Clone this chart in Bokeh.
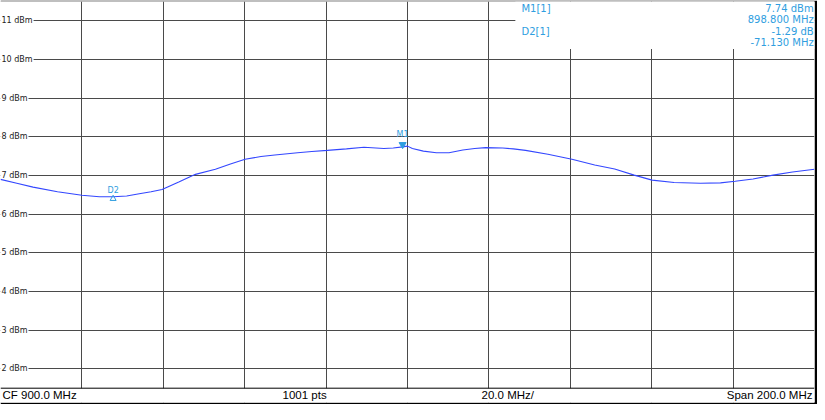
from bokeh.plotting import figure
from bokeh.models import (ColumnDataSource, FixedTicker, BoxAnnotation, Span,
                          Label, Range1d)
from bokeh.core.properties import value
from bokeh.embed import file_html
from bokeh.resources import INLINE

# ---------------- data ----------------
freq_mhz = [800.0, 804.0, 808.0, 814.0, 820.0, 824.3, 827.7, 831.0, 834.1, 837.0,
            839.7, 843.8, 847.9, 852.8, 856.5, 860.1, 864.0, 867.4, 873.0, 876.5,
            880.3, 885.0, 889.3, 894.2, 896.5, 898.8, 900.0, 901.2, 903.9, 907.1,
            910.2, 913.6, 916.5, 919.2, 923.4, 926.0, 929.0, 934.5, 940.4, 946.0,
            950.9, 955.7, 960.1, 965.5, 972.0, 976.9, 980.5, 984.9, 989.8, 994.6,
            1000.0]
level_dbm = [6.90, 6.80, 6.70, 6.58, 6.49, 6.45, 6.45, 6.47, 6.53, 6.58,
             6.64, 6.83, 7.03, 7.16, 7.30, 7.42, 7.49, 7.53, 7.59, 7.62,
             7.65, 7.69, 7.73, 7.70, 7.71, 7.74, 7.76, 7.70, 7.63, 7.59,
             7.59, 7.66, 7.70, 7.72, 7.71, 7.69, 7.65, 7.55, 7.42, 7.27,
             7.17, 7.01, 6.88, 6.82, 6.80, 6.81, 6.85, 6.91, 7.01, 7.09,
             7.16]

x_ticks = [800, 820, 840, 860, 880, 900, 920, 940, 960, 980, 1000]
y_ticks = [2, 3, 4, 5, 6, 7, 8, 9, 10, 11]
y_tick_labels = ["2 dBm", "3 dBm", "4 dBm", "5 dBm", "6 dBm", "7 dBm",
                 "8 dBm", "9 dBm", "10 dBm", "11 dBm"]

m1_freq = 898.8
m1_level = 7.74
d2_delta_freq = -71.13
d2_delta_level = -1.29

footer_texts = ["CF 900.0 MHz", "1001 pts", "20.0 MHz/", "Span 200.0 MHz"]

# ---------------- figure ----------------
BLUE = "#2f9ee0"
W, H = 817, 404
p = figure(width=W, height=H, output_backend="svg", toolbar_location=None,
           x_range=Range1d(800, 1000), y_range=Range1d(1.13, 11.5),
           min_border_left=0, min_border_right=3, min_border_top=1,
           min_border_bottom=2, border_fill_color="black",
           background_fill_color="white", outline_line_color=None)
p.axis.visible = False

p.xgrid.ticker = FixedTicker(ticks=x_ticks)
p.ygrid.ticker = FixedTicker(ticks=y_ticks)
p.grid.grid_line_color = "#4a4a4a"
p.grid.grid_line_width = 1
p.grid.grid_line_alpha = 1.0

# y labels with white background over grid lines (drawn before the trace)
ysrc = ColumnDataSource(dict(x=[800] * len(y_ticks), y=y_ticks, t=y_tick_labels))
p.text(x="x", y="y", text="t", source=ysrc, x_offset=0, padding=1,
       text_baseline="middle", text_align="left",
       text_font=value("DejaVu Sans"), text_font_size=value("8px"),
       text_color="#222222", background_fill_color="white",
       background_fill_alpha=1.0)

# trace
p.line(freq_mhz, level_dbm, line_color="#3347ff", line_width=1.1)

# markers
d2_freq = m1_freq + d2_delta_freq
d2_level = m1_level + d2_delta_level
p.scatter([m1_freq], [m1_level + 0.06], marker="inverted_triangle", size=7,
          fill_color=BLUE, line_color=BLUE)
p.scatter([d2_freq], [d2_level - 0.05], marker="triangle", size=6,
          fill_color=None, line_color=BLUE, line_width=1)
p.add_layout(Label(x=m1_freq, y=m1_level, text="M1", y_offset=8,
                   text_align="center", text_baseline="bottom",
                   text_font="DejaVu Sans", text_font_size="8px", text_color=BLUE))
p.add_layout(Label(x=d2_freq, y=d2_level, text="D2", y_offset=2,
                   text_align="center", text_baseline="bottom",
                   text_font="DejaVu Sans", text_font_size="8px", text_color=BLUE))

# marker info box (top right)
p.add_layout(BoxAnnotation(left=926.5, bottom=10.27, fill_color="white",
                           fill_alpha=1.0, line_color=None, level="annotation"))
info_left = [("M1[1]", 11.33), ("D2[1]", 10.73)]
info_right = [(f"{m1_level:.2f} dBm", 11.33),
              (f"{m1_freq:.3f} MHz", 11.03),
              (f"{d2_delta_level:.2f} dB", 10.73),
              (f"{d2_delta_freq:.3f} MHz", 10.44)]
for t, yy in info_left:
    p.add_layout(Label(x=928.0, y=yy, text=t, text_align="left",
                       text_baseline="middle", text_font="DejaVu Sans",
                       text_font_size="10px", text_color=BLUE))
for t, yy in info_right:
    p.add_layout(Label(x=999.8, y=yy, text=t, text_align="right",
                       text_baseline="middle", text_font="DejaVu Sans",
                       text_font_size="10px", text_color=BLUE))

# footer bar
p.add_layout(BoxAnnotation(top=1.5, fill_color="white", fill_alpha=1.0,
                           line_color=None, level="annotation"))
p.add_layout(Span(location=1.5, dimension="width", line_color="black",
                  line_width=1, level="annotation"))
footer_pos = [(800.5, "left"), (869.3, "left"), (918.2, "left"), (999.5, "right")]
for t, (xx, al) in zip(footer_texts, footer_pos):
    p.add_layout(Label(x=xx, y=1.315, text=t, text_align=al,
                       text_baseline="middle", text_font="Liberation Sans",
                       text_font_size="11.5px", text_color="black"))

open("out.html", "w").write(file_html(p, INLINE))
